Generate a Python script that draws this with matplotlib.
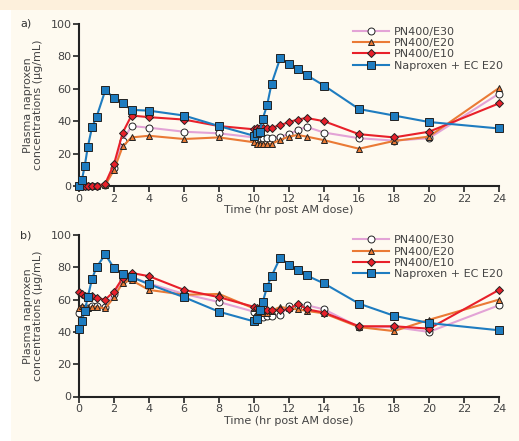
import numpy as np
import matplotlib.pyplot as plt

# sampling times (hr post AM dose)
times = [0, 0.17, 0.33, 0.5, 0.75, 1, 1.5, 2, 2.5, 3, 4, 6, 8, 10,
         10.17, 10.33, 10.5, 10.75, 11, 11.5, 12, 12.5, 13, 14, 16, 18, 20, 24]

# panel a
a_e30 = [0, 0, 0, 0, 0, 0, 0.5, 11, 28, 37, 36, 33.5, 32.5, 30,
         29, 29.5, 29.5, 29.5, 29.5, 30.5, 32, 34.5, 36.5, 33, 29.5, 28, 29.5, 57]
a_e20 = [0, 0, 0, 0, 0, 0, 0.5, 10, 24.5, 30, 31, 29, 30, 27,
         26, 26, 26, 26, 26, 28.5, 30.5, 31.5, 30.5, 28.3, 23, 27.8, 30.5, 60.5]
a_e10 = [0, 0, 0, 0, 0, 0, 1.5, 13.5, 33, 43.5, 42.5, 41, 37, 35,
         35.5, 35.5, 35.5, 35.5, 36, 37.5, 39.5, 41, 42, 40, 32, 30, 33.5, 51]
a_ec = [0, 4, 12.5, 24, 36.5, 42.5, 59, 54.5, 51, 47, 46.5, 43.5, 37, 31,
        33, 33.5, 41.5, 50, 63, 79, 75.5, 72.5, 68.5, 62, 47.5, 43.5, 39.5, 35.5]

# panel b
b_e30 = [51.5, 54.5, 53.5, 55, 56, 56, 55.5, 63.5, 72, 74, 70, 63.5, 58.5, 52.5,
         50, 49.5, 49.5, 50, 50, 50.5, 56, 56, 56.5, 54, 43, 43, 40, 56.5]
b_e20 = [54.5, 56, 55.5, 55, 55.5, 55.5, 54.5, 61.5, 70.5, 72, 66, 63, 63.5, 54.5,
         52, 51.5, 51.5, 52, 53, 55.5, 54.5, 54, 53, 51.5, 43, 40.5, 47.5, 60]
b_e10 = [64.5, 63.5, 62.5, 62.5, 62, 61, 60, 65, 73.5, 76.5, 74.5, 66, 61.5, 55.5,
         54.5, 54, 53.5, 53.5, 53.5, 53.5, 54, 57.5, 54, 52, 43.5, 43.5, 42, 66]
b_ec = [42, 47, 53, 61.5, 73, 80, 88, 79.5, 76, 74, 69.5, 61.5, 52.5, 46.5,
        48, 53.5, 58.5, 68, 74.5, 86, 81.5, 78.5, 75, 70, 57.5, 50, 45.5, 41]

labels = ['PN400/E30', 'PN400/E20', 'PN400/E10', 'Naproxen + EC E20']
colors = ['#e3a3d6', '#ea7a35', '#e8202a', '#1e7cc0']
markers = ['o', '^', 'D', 's']
mfaces = ['white', '#ea7a35', '#e8202a', '#1e7cc0']
msizes = [5, 5, 3.8, 5.6]

fig = plt.figure(figsize=(5.19, 4.41), dpi=100)
fig.patch.set_facecolor('#fefaf0')
# white strip on left and peach band on top
fig.patches.append(plt.Rectangle((0, 0), 11 / 519, 1, transform=fig.transFigure,
                                 facecolor='white', edgecolor='none', zorder=0))
fig.patches.append(plt.Rectangle((0, 1 - 10 / 441), 1, 10 / 441, transform=fig.transFigure,
                                 facecolor='#fdf0dc', edgecolor='none', zorder=0))

panels = [
    ('a)', [79 / 519, 1 - 186 / 441, 420 / 519, 162 / 441], [a_e30, a_e20, a_e10, a_ec], 1.025),
    ('b)', [79 / 519, 1 - 396.5 / 441, 420 / 519, 161.5 / 441], [b_e30, b_e20, b_e10, b_ec], 1.04),
]

for tag, rect, series, leg_y in panels:
    ax = fig.add_axes(rect)
    ax.set_facecolor('none')
    for i, ys in enumerate(series):
        ax.plot(times, ys, color=colors[i], lw=1.5, marker=markers[i], ms=msizes[i],
                mfc=mfaces[i], mec='#222222', mew=0.7, label=labels[i],
                clip_on=False, zorder=3 + i)
    ax.set_xlim(0, 24)
    ax.set_ylim(0, 100)
    ax.set_xticks(range(0, 25, 2))
    ax.set_yticks(range(0, 101, 20))
    for s in ['top', 'right']:
        ax.spines[s].set_visible(False)
    for s in ['left', 'bottom']:
        ax.spines[s].set_linewidth(1.5)
        ax.spines[s].set_color('#222222')
    ax.tick_params(direction='out', length=4, width=1.2, color='#222222',
                   labelsize=8, labelcolor='#444444', pad=1.5)
    ax.set_xlabel('Time (hr post AM dose)', fontsize=8, color='#444444', labelpad=1)
    ax.set_ylabel('Plasma naproxen\nconcentrations (\u00b5g/mL)', fontsize=8,
                  color='#444444', labelpad=5, linespacing=1.0)
    ax.text(-0.14, 1.0, tag, transform=ax.transAxes, fontsize=8, color='#333333',
            ha='left', va='center')
    ax.legend(loc='upper right', bbox_to_anchor=(1.025, leg_y), frameon=False,
              fontsize=8, handlelength=3.3, handletextpad=0.4, labelspacing=0.12,
              borderaxespad=0.2, labelcolor='#444444')

fig.savefig('out.png', dpi=100, facecolor=fig.get_facecolor())
